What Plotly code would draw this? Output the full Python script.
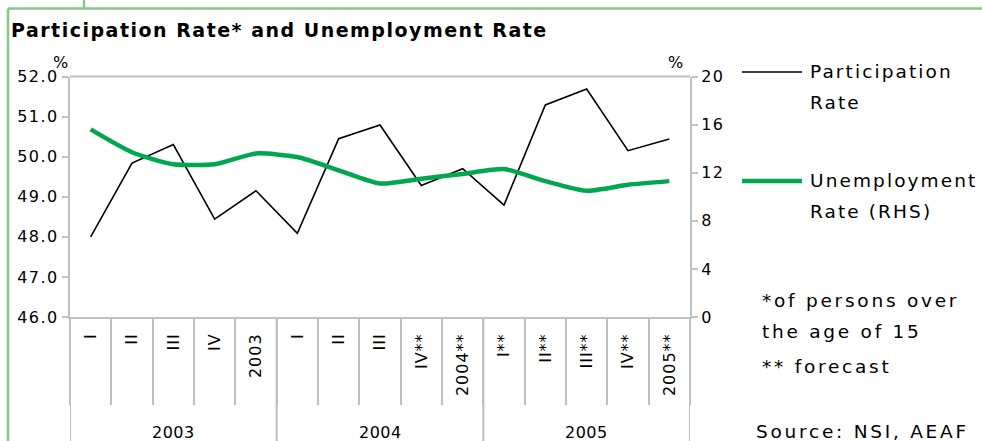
import plotly.graph_objects as go

W, H = 982, 441

quarter_labels = ["I", "II", "III", "IV", "2003", "I", "II", "III", "IV**", "2004**",
                  "I**", "II**", "III**", "IV**", "2005**"]
year_labels = ["2003", "2004", "2005"]
year_sizes = [5, 5, 5]

participation = [48.0, 49.84, 50.30, 48.44, 49.15, 48.09, 50.45, 50.79, 49.28, 49.70,
                 48.79, 51.29, 51.69, 50.15, 50.44]
unemployment = [15.6, 13.7, 12.7, 12.7, 13.6, 13.3, 12.2, 11.1, 11.5, 11.9,
                12.3, 11.3, 10.5, 11.0, 11.3]

left_ticks = [46, 47, 48, 49, 50, 51, 52]
right_ticks = [0, 4, 8, 12, 16, 20]

FONT = "DejaVu Sans"
GREY = "#c0c0c0"
GREEN = "#00a650"
FRAME = "#86c986"


def sp(t, ls=1.5):
    return f'<span style="letter-spacing:{ls}px">{t}</span>'


x = list(range(len(quarter_labels)))

# plot area in pixels
PL, PR, PT, PB = 70, 690, 76.5, 317


def px(v):
    return v / W


def py(v):
    return 1 - v / H


fig = go.Figure()
fig.add_trace(go.Scatter(x=x, y=participation, mode="lines", name="Participation Rate",
                         line=dict(color="black", width=1.6), yaxis="y"))
fig.add_trace(go.Scatter(x=x, y=unemployment, mode="lines", name="Unemployment Rate (RHS)",
                         line=dict(color=GREEN, width=4.5, shape="spline", smoothing=0.6),
                         yaxis="y2"))

shapes = []
# group separators
edges = [-0.5]
for s in year_sizes:
    edges.append(edges[-1] + s)
for e in edges:
    shapes.append(dict(type="line", xref="x", yref="paper", x0=e, x1=e,
                       y0=py(PB), y1=0, line=dict(color=GREY, width=2)))
# top border of plot area
shapes.append(dict(type="line", xref="paper", yref="paper", x0=px(PL), x1=px(PR), y0=py(PT), y1=py(PT),
                   line=dict(color=GREY, width=2)))
# frame
shapes.append(dict(type="line", xref="paper", yref="paper", x0=px(8), x1=1,
                   y0=py(8.5), y1=py(8.5), line=dict(color=FRAME, width=2.5)))
shapes.append(dict(type="line", xref="paper", yref="paper", x0=px(8), x1=px(8),
                   y0=py(8.5), y1=0, line=dict(color=FRAME, width=2.5)))
shapes.append(dict(type="line", xref="paper", yref="paper", x0=px(84), x1=px(84),
                   y0=1, y1=py(8.5), line=dict(color=FRAME, width=2.5)))
# legend samples
shapes.append(dict(type="line", xref="paper", yref="paper", x0=px(742), x1=px(802),
                   y0=py(72), y1=py(72), line=dict(color="black", width=1.6)))
shapes.append(dict(type="line", xref="paper", yref="paper", x0=px(742), x1=px(802),
                   y0=py(181), y1=py(181), line=dict(color=GREEN, width=4.5)))

annotations = []
# year labels
start = 0
for lab, s in zip(year_labels, year_sizes):
    annotations.append(dict(text=sp(lab, 0.5), x=start + (s - 1) / 2, xref="x", y=py(432), yref="paper",
                            showarrow=False, font=dict(family=FONT, size=16, color="black"),
                            xanchor="center", yanchor="middle"))
    start += s
# % labels
annotations.append(dict(text="%", x=px(60), y=py(62), xref="paper", yref="paper", showarrow=False,
                        xanchor="center", yanchor="middle",
                        font=dict(family=FONT, size=16, color="black")))
annotations.append(dict(text="%", x=px(675), y=py(62), xref="paper", yref="paper", showarrow=False,
                        xanchor="center", yanchor="middle",
                        font=dict(family=FONT, size=16, color="black")))
# legend texts
for txt, yy in [("Participation", 72), ("Rate", 103), ("Unemployment", 181), ("Rate (RHS)", 212)]:
    annotations.append(dict(text=sp(txt, 2.1), x=px(808), y=py(yy), xref="paper", yref="paper",
                            showarrow=False, xanchor="left", yanchor="middle", align="left",
                            font=dict(family=FONT, size=18.5, color="black")))
# notes
for txt, yy, xx in [("*of persons over", 300, 760), ("the age of 15", 331, 760),
                    ("** forecast", 366, 760), ("Source: NSI, AEAF", 431, 754)]:
    annotations.append(dict(text=sp(txt, 2.75), x=px(xx), y=py(yy), xref="paper", yref="paper",
                            showarrow=False, xanchor="left", yanchor="middle", align="left",
                            font=dict(family=FONT, size=18.5, color="black")))

tickfont = dict(family=FONT, size=16, color="black")

fig.update_layout(
    width=W, height=H,
    template="none",
    margin=dict(l=0, r=0, t=0, b=0, autoexpand=False),
    paper_bgcolor="white", plot_bgcolor="white",
    showlegend=False,
    title=dict(text="<b>" + sp("Participation Rate* and Unemployment Rate", 1.5) + "</b>",
               xref="container", yref="container",
               x=px(11), y=py(30), xanchor="left", yanchor="middle", automargin=False,
               font=dict(family=FONT, size=19, color="black")),
    xaxis=dict(domain=[px(PL), px(PR)], range=[-0.5, len(x) - 0.5], tickmode="array",
               tickvals=x, ticktext=[sp(t, 1) for t in quarter_labels], tickangle=-90, ticks="",
               ticklabelstandoff=8,
               tickfont=tickfont, automargin=False,
               showline=True, linecolor=GREY, linewidth=2, showgrid=False, zeroline=False,
               minor=dict(tickvals=[i - 0.5 for i in range(len(x) + 1)], ticks="outside",
                          ticklen=86, tickcolor=GREY, tickwidth=2, showgrid=False),
               anchor="y", mirror=False),
    yaxis=dict(domain=[py(PB), py(PT)], range=[46, 52], tickmode="array",
               tickvals=left_ticks, ticktext=[sp(f"{v:.1f}", 1.5) for v in left_ticks],
               ticks="outside", ticklen=6, tickcolor=GREY, tickwidth=2, automargin=False,
               showline=True, linecolor=GREY, linewidth=2, showgrid=False, zeroline=False,
               tickfont=tickfont, mirror=False),
    yaxis2=dict(range=[0, 20], tickmode="array", tickvals=right_ticks,
                ticktext=[sp(str(v), 1.5) for v in right_ticks],
                overlaying="y", side="right", anchor="x",
                ticks="outside", ticklen=6, tickcolor=GREY, tickwidth=2, automargin=False,
                showline=True, linecolor=GREY, linewidth=2, showgrid=False, zeroline=False,
                tickfont=tickfont),
    shapes=shapes,
    annotations=annotations,
)

fig.write_html("out.html")
